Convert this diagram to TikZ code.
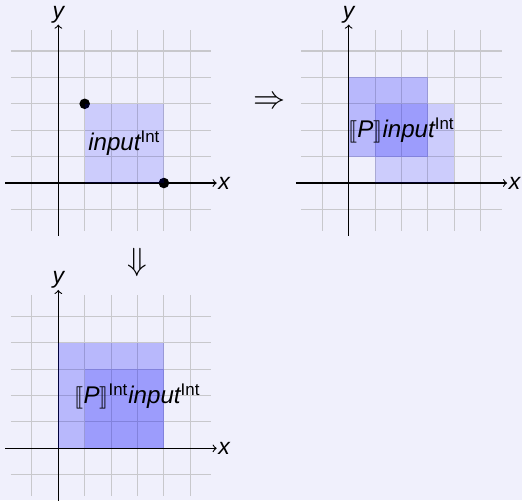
\documentclass[tikz,border=0pt]{standalone}
\usepackage{fontspec}
\setmainfont{Liberation Sans}
\usepackage{stmaryrd}
\definecolor{bgcol}{RGB}{240,240,252}
\definecolor{gridcol}{RGB}{200,200,204}
\newcommand{\mygrid}{%
  \foreach \k in {-1,...,5} {
    \draw[gridline] (\k,-1.8) -- (\k,5.8);
    \draw[gridline] (-1.8,\k) -- (5.8,\k);
  }}
\begin{document}
\begin{tikzpicture}[x=0.5cm,y=0.5cm,
  gridline/.style={draw=gridcol,line width=0.55pt},
  axis/.style={->,>=to,line width=0.6pt},
  lightbox/.style={fill=blue,fill opacity=0.15},
  darkbox/.style={fill=blue,fill opacity=0.23},
  lbl/.style={font=\fontsize{13}{15}\selectfont},
  axlbl/.style={font=\fontsize{12.4}{15}\selectfont\itshape,inner sep=0.6pt},
  bigarrow/.style={font=\fontsize{19}{22}\selectfont}]
\fill[bgcol] (-2.208,-12.008) rectangle (17.564,6.932);
\useasboundingbox (-2.208,-12.008) rectangle (17.564,6.932);

% panel 1
\begin{scope}
  \mygrid
  \coordinate (ax1w) at (-2,0);
  \coordinate (ax1e) at (6,0);
  \coordinate (ay1s) at (0,-2);
  \coordinate (ay1n) at (0,6);
  \draw[axis] (ax1w) -- (ax1e) node[axlbl,anchor=west] (xl1) {x};
  \draw[axis] (ay1s) -- (ay1n) node[axlbl,anchor=south] (yl1) {y};
  \fill (1,3) circle (0.2);
  \fill (4,0) circle (0.2);
  \fill[lightbox] (1,0) rectangle (4,3);
  \node[lbl] (t1) at (2.5,1.5) {\itshape input\textsuperscript{\upshape Int}};
\end{scope}

% implication arrows
\node[bigarrow] (imp) at (8,3.05) {$\Rightarrow$};
\node[bigarrow] (dimp) at (3,-3) {$\Downarrow$};

% panel 2
\begin{scope}[shift={(11,0)}]
  \mygrid
  \coordinate (ax2w) at (-2,0);
  \coordinate (ax2e) at (6,0);
  \coordinate (ay2s) at (0,-2);
  \coordinate (ay2n) at (0,6);
  \draw[axis] (ax2w) -- (ax2e) node[axlbl,anchor=west] (xl2) {x};
  \draw[axis] (ay2s) -- (ay2n) node[axlbl,anchor=south] (yl2) {y};
  \fill[lightbox] (1,0) rectangle (4,3);
  \fill[darkbox] (0,1) rectangle (3,4);
  \node[lbl,inner sep=0pt] (t2) at (2,2) {$\llbracket$\itshape P\upshape$\rrbracket$\itshape input\textsuperscript{\upshape Int}};
\end{scope}

% panel 3
\begin{scope}[shift={(0,-10.05)}]
  \mygrid
  \coordinate (ax3w) at (-2,0);
  \coordinate (ax3e) at (6,0);
  \coordinate (ay3s) at (0,-2);
  \coordinate (ay3n) at (0,6);
  \draw[axis] (ax3w) -- (ax3e) node[axlbl,anchor=west] (xl3) {x};
  \draw[axis] (ay3s) -- (ay3n) node[axlbl,anchor=south] (yl3) {y};
  \fill[darkbox] (0,0) rectangle (4,4);
  \fill[lightbox] (1,0) rectangle (4,3);
  \node[lbl,inner sep=0pt] (t3) at (3,1.95) {$\llbracket$\itshape P\upshape$\rrbracket$\textsuperscript{Int}\itshape input\textsuperscript{\upshape Int}};
\end{scope}
\end{tikzpicture}
\end{document}
